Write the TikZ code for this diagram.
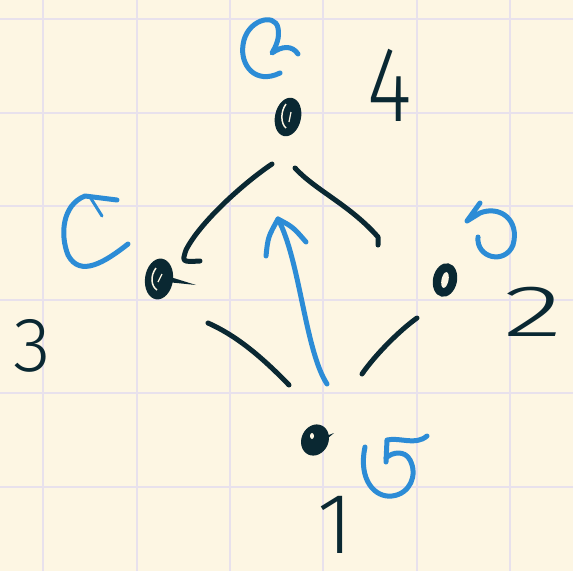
\documentclass[tikz,border=0pt]{standalone}
\usepackage{fontspec}
\setmainfont{Fira Sans Light}
\usetikzlibrary{calc,shapes.geometric}
\definecolor{paper}{RGB}{253,246,227}
\definecolor{gridc}{RGB}{232,225,236}
\definecolor{ink}{RGB}{10,40,50}
\definecolor{pen}{RGB}{44,140,214}
\tikzset{
  edge/.style={draw=ink, line width=5pt, line cap=round, line join=round},
  loopc/.style={draw=pen, line width=5pt, line cap=round, line join=round},
  obj/.style={ellipse, fill=ink, inner sep=0pt},
  lbl/.style={text=ink, inner sep=0pt},
  gridl/.style={draw=gridc, line width=2pt},
}
\begin{document}
\begin{tikzpicture}[x=1pt,y=-1pt]
\fill[paper] (0,0) rectangle (573,571);
\useasboundingbox (0,0) rectangle (573,571);
\foreach \g in {43,136.5,230,323.4,416.8,510.2} \draw[gridl] (\g,0) -- (\g,571);
\foreach \g in {19,112.5,206,299.5,393,486.5} \draw[gridl] (0,\g) -- (573,\g);

% objects
\node[obj, minimum width=26pt, minimum height=39pt, rotate=-12] (top) at (288,117) {};
\node[obj, minimum width=28pt, minimum height=41pt, rotate=-8] (left) at (159,279) {};
\node[obj, minimum width=24pt, minimum height=34pt, rotate=-12] (right) at (445,280) {};
\node[obj, minimum width=27pt, minimum height=32pt, rotate=-25] (bottom) at (315,440) {};
% highlights
\draw[paper, line width=1.5pt] (286,104) .. controls (280,112) and (281,124) .. (286,128);
\draw[paper, line width=1.2pt] (291,112) -- (289,122);
\draw[paper, line width=1.5pt] (156,268) .. controls (150,276) and (151,286) .. (157,290);
\draw[paper, line width=1.2pt] (162,274) -- (158,282);
\fill[paper, rotate around={-12:(445,280)}] (445,280) ellipse (3.5pt and 8pt);
\fill[paper] (312,436) ellipse (2pt and 3pt);
% tails
\fill[ink] ($(left)+(8,3)$) -- ($(left)+(37,6)$) -- ($(left)+(8,-3)$) -- cycle;
\fill[ink] ($(bottom)+(6,-2)$) -- ($(bottom)+(19,-7)$) -- ($(bottom)+(6,4)$) -- cycle;

% edges
\draw[edge] ($(top)+(-16,47)$) .. controls ($(top)+(-43,65)$) and ($(left)+(41,-57)$) .. ($(left)+(27,-29)$)
  .. controls ($(left)+(23,-17)$) .. ($(left)+(41,-18)$);
\draw[edge] ($(top)+(7,51)$) .. controls ($(top)+(27,73)$) and ($(right)+(-95,-75)$) .. ($(right)+(-67,-43)$)
  -- ($(right)+(-67,-35)$);
\draw[edge] ($(left)+(49,44)$) .. controls ($(left)+(76,56)$) and ($(bottom)+(-55,-85)$) .. ($(bottom)+(-26,-55)$);
\draw[edge] ($(right)+(-28,38)$) .. controls ($(right)+(-45,50)$) and ($(bottom)+(60,-85)$) .. ($(bottom)+(47,-66)$);

% blue arrow bottom -> top
\draw[loopc] ($(bottom)+(12,-56)$) .. controls ($(bottom)+(-10,-90)$) and ($(top)+(12,143)$) .. ($(top)+(-10,102)$);
\draw[loopc] ($(top)+(-22,139)$) .. controls ($(top)+(-20,120)$) .. ($(top)+(-10,102)$)
  .. controls ($(top)+(5,110)$) .. ($(top)+(18,125)$);

% identity loops
\draw[loopc] (280,73) .. controls (255,85) and (240,65) .. (243,45)
  .. controls (246,20) and (275,12) .. (278,28) .. controls (280,38) and (276,46) .. (272,53)
  .. controls (282,46) and (292,45) .. (298,54);
\draw[loopc] (128,244) .. controls (105,262) and (80,278) .. (68,255)
  .. controls (60,235) and (62,205) .. (85,196) -- (117,200);
\draw[loopc, line width=3pt] (90,197) -- (102,216);
\draw[loopc] (478,237) .. controls (476,258) and (505,265) .. (513,245)
  .. controls (520,220) and (500,205) .. (480,213) -- (467,221) -- (480,203);
\draw[loopc] (365,447) .. controls (358,480) and (375,498) .. (392,496)
  .. controls (410,494) and (418,475) .. (410,460) .. controls (405,450) and (392,452) .. (386,458);
\draw[loopc] (386,462) -- (387,440) .. controls (400,437) and (415,446) .. (427,436);

% labels
\node[lbl, font=\fontsize{107}{107}\selectfont, xscale=0.8] (l4) at (390,85) {4};
\node[lbl, font=\fontsize{77}{77}\selectfont] (l3) at (32,346) {3};
\node[lbl, font=\fontsize{73}{73}\selectfont, xscale=1.7] (l2) at (533,312) {2};
\node[lbl, font=\fontsize{86}{86}\selectfont] (l1) at (335,525) {1};
\end{tikzpicture}
\end{document}
